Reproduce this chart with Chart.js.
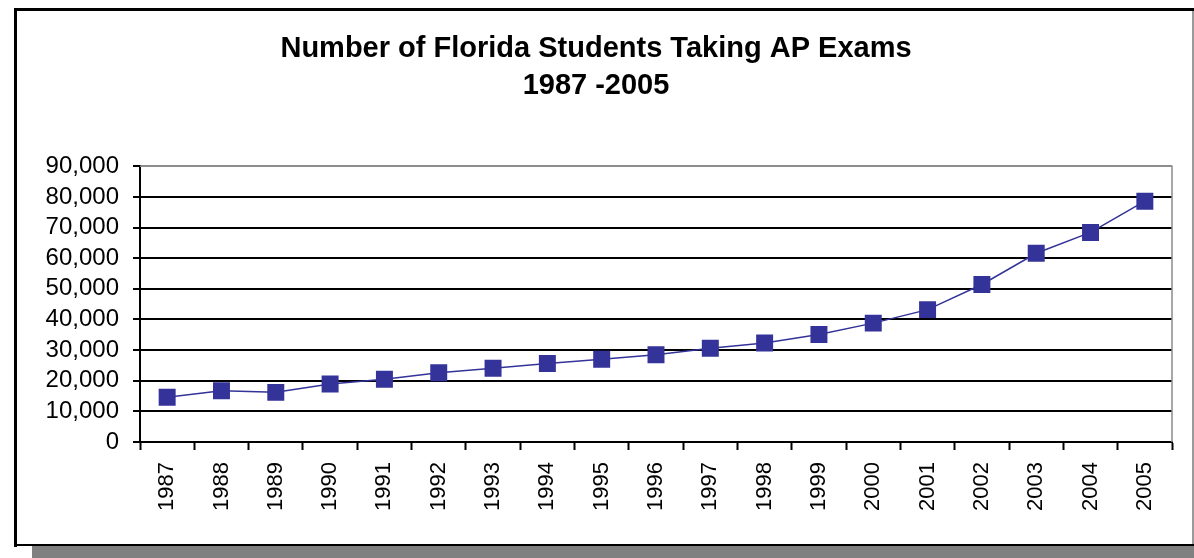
<!DOCTYPE html>
<html>
<head>
<meta charset="utf-8">
<script src="https://cdn.jsdelivr.net/npm/chart.js@4"></script>
<style>
  html, body { margin: 0; padding: 0; background: #fff; }
  #wrap { position: relative; width: 1194px; height: 558px; }
</style>
</head>
<body>
<div id="wrap"><canvas id="chart" width="1194" height="558"></canvas></div>
<script>
'use strict';

// ── Data ──────────────────────────────────────────────────────────────────────

const years = ['1987', '1988', '1989', '1990', '1991', '1992', '1993', '1994', '1995', '1996',
               '1997', '1998', '1999', '2000', '2001', '2002', '2003', '2004', '2005'];

// students taking AP exams
const students = [14600, 16700, 16200, 18900, 20500, 22600, 24100, 25600, 27000, 28500,
                  30600, 32300, 35100, 38800, 43200, 51400, 61600, 68400, 78600];

const yTicks = [0, 10000, 20000, 30000, 40000, 50000, 60000, 70000, 80000, 90000];

const titleLines = ['Number of Florida Students Taking AP Exams', '1987 -2005'];

// ── Style ─────────────────────────────────────────────────────────────────────

const NAVY = '#333399';
const FONT = "'Liberation Sans', Arial, sans-serif";

// frame with a grey drop shadow, like the old spreadsheet chart
const framePlugin = {
  id: 'frame',
  beforeDraw(chart) {
    const c = chart.ctx;
    c.save();
    c.fillStyle = '#808080';
    c.fillRect(32, 546, 1162, 12);
    c.fillStyle = '#000';
    c.fillRect(14, 8, 1180, 3);
    c.fillRect(14, 8, 3, 539);
    c.fillRect(14, 544, 1180, 2);
    c.fillStyle = '#9a9a9a';
    c.fillRect(1192, 11, 2, 533);
    c.restore();
  },
  beforeDatasetsDraw(chart) {
    const a = chart.chartArea;
    const c = chart.ctx;
    c.save();
    c.strokeStyle = '#8c8c8c';
    c.lineWidth = 1.5;
    c.beginPath();
    c.moveTo(a.left, a.top);
    c.lineTo(a.right, a.top);
    c.lineTo(a.right, a.bottom);
    c.stroke();
    c.restore();
  },
};

new Chart(document.getElementById('chart'), {
  type: 'line',
  data: {
    labels: years,
    datasets: [{
      data: students,
      borderColor: NAVY,
      borderWidth: 1.5,
      backgroundColor: NAVY,
      pointStyle: 'rect',
      pointRadius: 12,
      pointBorderWidth: 0,
      pointBackgroundColor: NAVY,
      tension: 0,
      fill: false,
    }],
  },
  options: {
    responsive: false,
    animation: false,
    layout: { padding: { left: 20, right: 22, top: 10, bottom: 0 } },
    plugins: {
      legend: { display: false },
      tooltip: { enabled: false },
      title: {
        display: true,
        text: titleLines,
        color: '#000',
        font: { family: FONT, size: 29, weight: 'bold', lineHeight: 1.28 },
        padding: { top: 20, bottom: 62 },
      },
    },
    scales: {
      x: {
        offset: true,
        afterFit: s => { s.height = 116; },
        grid: {
          offset: true,
          drawOnChartArea: false,
          drawTicks: true,
          tickLength: 8,
          tickWidth: 2,
          tickColor: '#000',
        },
        border: { color: '#000', width: 2 },
        ticks: {
          color: '#000',
          font: { family: FONT, size: 22 },
          minRotation: 90,
          maxRotation: 90,
          padding: 12,
          autoSkip: false,
        },
      },
      y: {
        min: 0,
        max: 90000,
        afterFit: s => { s.width = 120; },
        afterBuildTicks: s => { s.ticks = yTicks.map(v => ({ value: v })); },
        grid: {
          color: ctx => (ctx.tick && ctx.tick.value === 90000 ? '#8c8c8c' : '#000'),
          lineWidth: 2,
          tickLength: 7,
          tickColor: '#000',
          tickWidth: 2,
        },
        border: { color: '#000', width: 2 },
        ticks: {
          color: '#000',
          font: { family: FONT, size: 24 },
          padding: 14,
          autoSkip: false,
          callback: v => v.toLocaleString('en-US'),
        },
      },
    },
  },
  plugins: [framePlugin],
});
</script>
</body>
</html>
